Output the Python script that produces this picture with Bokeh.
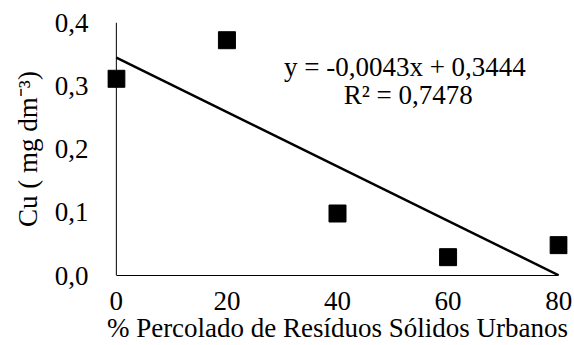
from bokeh.plotting import figure
from bokeh.models import Range1d, FixedTicker, CustomJSTickFormatter, Label, ColumnDataSource, Span
from bokeh.embed import file_html
from bokeh.resources import INLINE

# ---- data ----
x_percent = [0, 20, 40, 60, 80]
cu_values = [0.311, 0.372, 0.098, 0.029, 0.048]
slope = -0.0043
intercept = 0.3444
r2_text = "R² = 0,7478"
eq_text = "y = -0,0043x  + 0,3444"
x_ticks = [0, 20, 40, 60, 80]
y_ticks = [0.0, 0.1, 0.2, 0.3, 0.4]
x_label = "% Percolado de Resíduos Sólidos Urbanos"
y_label = "Cu ( mg dm⁻³)"

FONT = "Liberation Serif"
FS = "27px"

p = figure(width=574, height=345, output_backend="svg", toolbar_location=None,
           x_range=Range1d(-1.6, 81.6), y_range=Range1d(0, 0.4),
           min_border_left=107, min_border_right=7, min_border_top=22, min_border_bottom=70)
p.outline_line_color = None
p.grid.grid_line_color = None
p.background_fill_color = "white"
p.border_fill_color = "white"

# vertical axis line at x = 0
p.add_layout(Span(location=x_ticks[0], dimension="height", line_color="black", line_width=1))

# trend line
tx = [x_ticks[0], x_ticks[-1]]
ty = [slope * v + intercept for v in tx]
p.line(tx, ty, line_color="black", line_width=2.5)

src = ColumnDataSource(dict(x=x_percent, y=cu_values))
p.scatter("x", "y", source=src, marker="square", size=17, fill_color="black", line_color="black")

for ax in (p.xaxis[0], p.yaxis[0]):
    ax.major_tick_line_color = None
    ax.minor_tick_line_color = None
    ax.axis_line_color = "black"
    ax.axis_line_width = 1
    ax.major_label_text_font = FONT
    ax.major_label_text_font_size = FS
    ax.major_label_text_color = "black"
    ax.axis_label_text_font = FONT
    ax.axis_label_text_font_size = FS
    ax.axis_label_text_font_style = "normal"
    ax.axis_label_text_color = "black"

xa = p.xaxis[0]
xa.ticker = FixedTicker(ticks=x_ticks)
xa.bounds = (x_ticks[0], x_ticks[-1])
xa.axis_label = x_label
xa.major_label_standoff = 10
xa.axis_label_standoff = 0

ya = p.yaxis[0]
ya.ticker = FixedTicker(ticks=y_ticks)
ya.formatter = CustomJSTickFormatter(code="return tick.toFixed(1).replace('.', ',');")
ya.axis_line_color = None
ya.axis_label = y_label
ya.major_label_standoff = 13
ya.axis_label_standoff = 9

p.add_layout(Label(x=52.8, y=0.330, text=eq_text, text_font=FONT, text_font_size=FS,
                   text_align="center", text_baseline="middle", text_color="black"))
p.add_layout(Label(x=52.8, y=0.286, text=r2_text, text_font=FONT, text_font_size=FS,
                   text_align="center", text_baseline="middle", text_color="black"))

open("out.html", "w").write(file_html(p, INLINE))
